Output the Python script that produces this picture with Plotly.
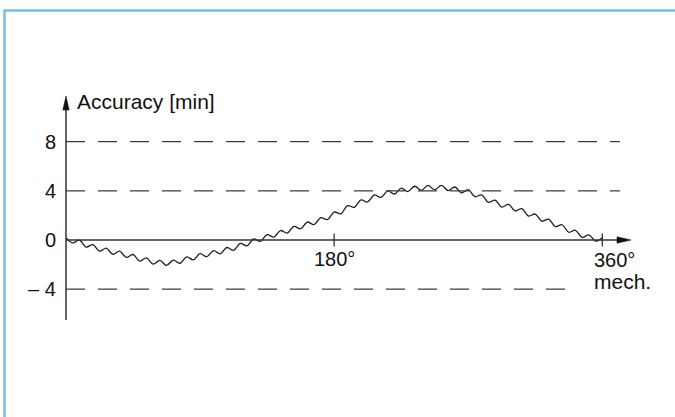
import plotly.graph_objects as go

# ---------------- data ----------------
angle_deg = [0, 4.5, 9, 13.5, 18, 22.5, 27, 31.5, 36, 40.5, 45, 49.5, 54, 58.5, 63, 67.5,
             72, 76.5, 81, 85.5, 90, 94.5, 99, 103.5, 108, 112.5, 117, 121.5, 126, 130.5,
             135, 139.5, 144, 148.5, 153, 157.5, 162, 166.5, 171, 175.5, 180, 184.5, 189,
             193.5, 198, 202.5, 207, 211.5, 216, 220.5, 225, 229.5, 234, 238.5, 243, 247.5,
             252, 256.5, 261, 265.5, 270, 274.5, 279, 283.5, 288, 292.5, 297, 301.5, 306,
             310.5, 315, 319.5, 324, 328.5, 333, 337.5, 342, 346.5, 351, 355.5, 360]
accuracy_min = [0.19, -0.24, -0.01, -0.57, -0.38, -0.91, -0.66, -1.17, -0.91, -1.41, -1.18,
                -1.71, -1.46, -1.96, -1.66, -2.07, -1.63, -1.89, -1.37, -1.62, -1.11, -1.36,
                -0.86, -1.12, -0.61, -0.84, -0.28, -0.47, 0.09, -0.11, 0.44, 0.23, 0.77, 0.56,
                1.11, 0.91, 1.46, 1.25, 1.81, 1.66, 2.27, 2.13, 2.79, 2.66, 3.26, 3.09, 3.66,
                3.46, 3.99, 3.74, 4.22, 3.93, 4.37, 4.03, 4.44, 4.08, 4.44, 4.01, 4.31, 3.84,
                4.09, 3.53, 3.67, 3.06, 3.24, 2.68, 2.89, 2.36, 2.55, 1.95, 2.11, 1.53, 1.69,
                1.09, 1.24, 0.63, 0.79, 0.21, 0.42, -0.09, 0.19]

limit_values = [8, 4, -4]
y_tick_values = [8, 4, 0, -4]
y_tick_text = ["8", "4", "0", "\u2013 4"]
x_tick_values = [180, 360]
x_tick_text = ["180\u00b0", "360\u00b0"]
y_title = "Accuracy [min]"
x_unit = "mech."

# ---------------- geometry helpers (layout only) ----------------
W, H = 675, 417
X0_PX = 66.0
X_PER_DEG = (602.3 - 66.0) / 360.0
Y0_PX = 240.0
Y_PER_UNIT = 12.3


def px_x(p):
    return (p - X0_PX) / X_PER_DEG


def px_y(p):
    return (Y0_PX - p) / Y_PER_UNIT


AXIS_COLOR = "#333333"
DASH_COLOR = "#3c3c3c"
TEXT_COLOR = "#111111"
FONT = "Liberation Sans, Arial, Helvetica, sans-serif"

fig = go.Figure()

fig.add_trace(go.Scatter(
    x=angle_deg, y=accuracy_min, mode="lines",
    line=dict(color="#1e1e1e", width=1.3, shape="spline", smoothing=1.0),
    hoverinfo="skip", showlegend=False,
))

shapes = []
# frame
shapes.append(dict(type="line", xref="paper", yref="paper",
                   x0=4.5 / W, x1=1.0, y0=1 - 10.5 / H, y1=1 - 10.5 / H,
                   line=dict(color="#78bbe4", width=2.5)))
shapes.append(dict(type="line", xref="paper", yref="paper",
                   x0=4.5 / W, x1=4.5 / W, y0=1 - 9.5 / H, y1=0,
                   line=dict(color="#78bbe4", width=2.5)))

# dashed limit lines
ends_px = {8: 620, 4: 620, -4: 568}
for v in limit_values:
    shapes.append(dict(type="line", xref="x", yref="y",
                       x0=0, x1=px_x(ends_px[v]), y0=v, y1=v,
                       line=dict(color=DASH_COLOR, width=1.3, dash="19px,13px")))

# axes
shapes.append(dict(type="line", xref="x", yref="y", x0=0, x1=0,
                   y0=px_y(320), y1=px_y(108),
                   line=dict(color=AXIS_COLOR, width=1.5)))
shapes.append(dict(type="line", xref="x", yref="y", x0=0, x1=px_x(620),
                   y0=0, y1=0, line=dict(color=AXIS_COLOR, width=1.5)))
# arrowheads
ya = (f"M {px_x(X0_PX - 3.2)} {px_y(110)} L 0 {px_y(96)} "
      f"L {px_x(X0_PX + 3.2)} {px_y(110)} Z")
shapes.append(dict(type="path", xref="x", yref="y", path=ya,
                   fillcolor="#111111", line=dict(color="#111111", width=0.5)))
xa = (f"M {px_x(617)} {px_y(Y0_PX - 3.2)} L {px_x(631)} 0 "
      f"L {px_x(617)} {px_y(Y0_PX + 3.2)} Z")
shapes.append(dict(type="path", xref="x", yref="y", path=xa,
                   fillcolor="#111111", line=dict(color="#111111", width=0.5)))
# x ticks
for xv in x_tick_values:
    shapes.append(dict(type="line", xref="x", yref="y", x0=xv, x1=xv,
                       y0=px_y(Y0_PX - 6.5), y1=px_y(Y0_PX + 6.5),
                       line=dict(color=AXIS_COLOR, width=1.3)))

annotations = []
for v, t in zip(y_tick_values, y_tick_text):
    annotations.append(dict(x=px_x(58), y=v, xref="x", yref="y", text=t,
                            showarrow=False, xanchor="right", yanchor="middle",
                            font=dict(family=FONT, size=20, color=TEXT_COLOR)))
annotations.append(dict(x=x_tick_values[0], y=px_y(259), xref="x", yref="y",
                        text=x_tick_text[0], showarrow=False, xanchor="center",
                        yanchor="middle", font=dict(family=FONT, size=20, color=TEXT_COLOR)))
annotations.append(dict(x=px_x(592), y=px_y(260), xref="x", yref="y",
                        text=x_tick_text[1], showarrow=False, xanchor="left",
                        yanchor="middle", font=dict(family=FONT, size=20, color=TEXT_COLOR)))
annotations.append(dict(x=px_x(592), y=px_y(281), xref="x", yref="y",
                        text=x_unit, showarrow=False, xanchor="left",
                        yanchor="middle", font=dict(family=FONT, size=21, color=TEXT_COLOR)))
annotations.append(dict(x=px_x(75), y=px_y(101), xref="x", yref="y",
                        text=y_title, showarrow=False, xanchor="left",
                        yanchor="middle", font=dict(family=FONT, size=21, color=TEXT_COLOR)))

fig.update_layout(
    width=W, height=H,
    margin=dict(l=0, r=0, t=0, b=0),
    paper_bgcolor="white", plot_bgcolor="white",
    xaxis=dict(range=[px_x(0), px_x(W)], visible=False, fixedrange=True),
    yaxis=dict(range=[px_y(H), px_y(0)], visible=False, fixedrange=True),
    shapes=shapes, annotations=annotations, showlegend=False,
)

fig.write_html(
    "out.html",
    config={"displayModeBar": False, "staticPlot": True},
    post_script="document.body.style.margin='0';document.body.style.overflow='hidden';",
)
